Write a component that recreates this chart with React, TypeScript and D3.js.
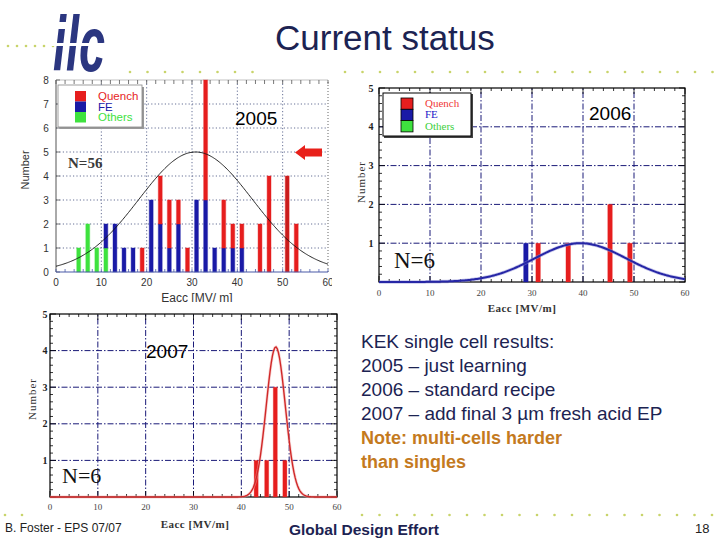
import React from 'react';
import * as d3 from 'd3';

// ---------- data ----------
const bins2005 = [5, 7, 9, 11, 13, 15, 17, 19, 21, 23, 25, 27, 29, 31, 33, 35, 37, 39, 41, 45, 47, 51, 53];
const others2005 = [1, 2, 1, 1, 0, 0, 0, 0, 0, 0, 0, 0, 0, 0, 0, 0, 0, 0, 0, 0, 0, 0, 0];
const fe2005 = [0, 0, 0, 1, 2, 1, 1, 0, 3, 2, 1, 2, 0, 3, 3, 1, 1, 1, 1, 0, 0, 0, 0];
const quench2005 = [0, 0, 0, 0, 0, 0, 0, 1, 0, 2, 2, 1, 1, 0, 5, 0, 2, 1, 1, 2, 4, 4, 2];
const fitMean2005 = 30.8;
const fitSigma2005 = 12.5;
const fitAmp2005 = 5.0;

const e2006 = [28.8, 31.2, 37.1, 45.3, 49.2];
const n2006 = [1, 1, 1, 2, 1];
const cause2006 = ['FE', 'Quench', 'Quench', 'Quench', 'Quench'];
const fitMean2006 = 39.5;
const fitSigma2006 = 9.0;
const fitAmp2006 = 1.0;

const e2007 = [43.1, 45.3, 47.1, 49.1];
const n2007 = [1, 1, 3, 1];
const fitMean2007 = 47.2;
const fitSigma2007 = 2.0;
const fitAmp2007 = 4.1;

const legendLabels = ['Quench', 'FE', 'Others'];
const xTicks = [0, 10, 20, 30, 40, 50, 60];
const yTicks2005 = [0, 1, 2, 3, 4, 5, 6, 7, 8];
const yTicks = [1, 2, 3, 4, 5];

const notes = [
  'KEK single cell results:',
  '2005 \u2013 just learning',
  '2006 \u2013 standard recipe',
  '2007 \u2013 add final 3 \u00b5m fresh acid EP',
];
const noteBold = ['Note: multi-cells harder', 'than singles'];

// ---------- styles ----------
const RED = '#e61e1e';
const BLUE = '#1a1aa6';
const GREEN = '#3ee23e';
const NAVY = '#1c2352';
const SANS = 'Liberation Sans, Arial, sans-serif';
const SERIF = 'Liberation Serif, Times New Roman, serif';
const causeColor: Record<string, string> = { Quench: RED, FE: BLUE, Others: GREEN };

function gauss(amp: number, mean: number, sigma: number) {
  return d3.range(0, 60.001, 0.25).map((v) => [v, amp * Math.exp(-((v - mean) ** 2) / (2 * sigma * sigma))] as [number, number]);
}

function Panel2005() {
  const x = d3.scaleLinear().domain([0, 60]).range([56, 328]);
  const y = d3.scaleLinear().domain([0, 8]).range([272, 80]);
  const bw = x(0.85) - x(0);
  const rows = bins2005.map((b, i) => ({ bin: b, others: others2005[i], fe: fe2005[i], quench: quench2005[i] }));
  const series = d3.stack<any>().keys(['others', 'fe', 'quench'])(rows);
  const colors = [GREEN, BLUE, RED];
  const line = d3.line<[number, number]>().x((d) => x(d[0])).y((d) => y(d[1]));
  const minorX = d3.range(0, 61, 2);
  return (
    <g clipPath="url(#clip2005)">
      <rect x={15} y={74} width={320} height={230} fill="#fff" />
      {[10, 20, 30, 40, 50].map((t) => (
        <line key={'gx' + t} x1={x(t)} x2={x(t)} y1={y(0)} y2={y(8)} stroke="#55608a" strokeDasharray="1.2,2.2" strokeWidth={0.9} />
      ))}
      {[1, 2, 3, 4, 5, 6, 7].map((t) => (
        <line key={'gy' + t} x1={x(0)} x2={x(60)} y1={y(t)} y2={y(t)} stroke="#55608a" strokeDasharray="1.2,2.2" strokeWidth={0.9} />
      ))}
      <line x1={x(0)} x2={x(0)} y1={y(0)} y2={y(8)} stroke="#555" strokeWidth={1} />
      <line x1={x(60)} x2={x(60)} y1={y(0)} y2={y(8)} stroke="#666" strokeDasharray="1,2" strokeWidth={1} />
      <line x1={x(0)} x2={x(60)} y1={y(8)} y2={y(8)} stroke="#999" strokeWidth={0.6} />
      {minorX.map((t) => (
        <line key={'tt' + t} x1={x(t)} x2={x(t)} y1={y(8)} y2={y(8) + 4} stroke="#555" strokeWidth={0.8} />
      ))}
      {yTicks2005.map((t) => (
        <line key={'ly' + t} x1={x(0)} x2={x(0) + 4} y1={y(t)} y2={y(t)} stroke="#555" strokeWidth={0.8} />
      ))}
      {series.map((s, si) =>
        s.map((d, i) =>
          d[1] - d[0] > 0 ? (
            <rect
              key={si + '-' + i}
              x={x(rows[i].bin) - bw / 2}
              y={y(d[1])}
              width={bw}
              height={y(d[0]) - y(d[1])}
              fill={rows[i].bin === 51 && si === 2 ? '#c81c1c' : colors[si]}
              stroke={colors[si]}
              strokeOpacity={0.35}
              strokeWidth={1.2}
            />
          ) : null
        )
      )}
      <line x1={x(0)} x2={x(60)} y1={y(0)} y2={y(0)} stroke="#4a5aa8" strokeWidth={1.2} />
      {minorX.map((t) => (
        <line key={'bt' + t} x1={x(t)} x2={x(t)} y1={y(0)} y2={y(0) - 3} stroke="#4a5aa8" strokeWidth={0.8} />
      ))}
      <path d={line(gauss(fitAmp2005, fitMean2005, fitSigma2005)) || ''} fill="none" stroke="#111" strokeWidth={0.9} />
      {yTicks2005.map((t) => (
        <text key={'yl' + t} x={46} y={y(t) + 3.5} fontFamily={SANS} fontSize={10} fill="#333" textAnchor="middle">{t}</text>
      ))}
      {xTicks.map((t) => (
        <text key={'xl' + t} x={x(t)} y={286} fontFamily={SANS} fontSize={10} fill="#333" textAnchor="middle">{t}</text>
      ))}
      <text x={197} y={302} fontFamily={SANS} fontSize={12} fill="#333" textAnchor="middle">Eacc [MV/ m]</text>
      <text transform="translate(29,170) rotate(-90)" fontFamily={SANS} fontSize={11} fill="#333" textAnchor="middle">Number</text>
      <rect x={60} y={87} width={84} height={42} fill="#999" />
      <rect x={58} y={85} width={84} height={42} fill="#fff" stroke="#888" strokeWidth={0.8} />
      {legendLabels.map((l, i) => (
        <g key={'lg' + l}>
          <rect x={75} y={91 + i * 10.5} width={11} height={10.5} fill={causeColor[l]} />
          <text x={98} y={100 + i * 10.5} fontFamily={SANS} fontSize={11.5} fill={causeColor[l]}>{l}</text>
        </g>
      ))}
      <text x={68} y={168} fontFamily={SERIF} fontWeight="bold" fontSize={15} fill="#3a3a3a">N=56</text>
      <text x={235} y={125} fontFamily={SANS} fontSize={19} fill="#000">2005</text>
      <path d="M295,152.5 L305,145 L305,148.5 L322,148.5 L322,156.5 L305,156.5 L305,160 Z" fill="#e8201a" />
    </g>
  );
}

function FramedPanel(props: {
  x0: number; x1: number; y0: number; y1: number;
  bars: { e: number; n: number; c: string }[];
  fit: [number, number][];
  fitColor: string; glow: string; fitW: number;
  nLabel: { x: number; y: number; size: number };
  year: { x: number; y: number; text: string };
  yTitle: { x: number; y: number };
  xTitle: { x: number; y: number };
  xLabelY: number; yLabelX: number;
  legend?: boolean; barW: number;
}) {
  const p = props;
  const x = d3.scaleLinear().domain([0, 60]).range([p.x0, p.x1]);
  const y = d3.scaleLinear().domain([0, 5]).range([p.y0, p.y1]);
  const line = d3.line<[number, number]>().x((d) => x(d[0])).y((d) => y(d[1]));
  const bw = x(p.barW) - x(0);
  const minorX = d3.range(0, 61, 2);
  const minorY = d3.range(0, 5.01, 0.2);
  return (
    <g>
      {[10, 20, 30, 40, 50].map((t) => (
        <line key={'gx' + t} x1={x(t)} x2={x(t)} y1={y(0)} y2={y(5)} stroke="#1a1a78" strokeDasharray="6,2,1.5,2" strokeWidth={1} />
      ))}
      {[1, 2, 3, 4].map((t) => (
        <line key={'gy' + t} x1={x(0)} x2={x(60)} y1={y(t)} y2={y(t)} stroke="#1a1a78" strokeDasharray="6,2,1.5,2" strokeWidth={1} />
      ))}
      <rect x={p.x0} y={p.y1} width={p.x1 - p.x0} height={p.y0 - p.y1} fill="none" stroke="#000" strokeWidth={1.2} />
      {minorX.map((t) => (
        <g key={'mx' + t}>
          <line x1={x(t)} x2={x(t)} y1={y(0)} y2={y(0) - (t % 10 === 0 ? 6 : 3)} stroke="#000" strokeWidth={0.8} />
          <line x1={x(t)} x2={x(t)} y1={y(5)} y2={y(5) + (t % 10 === 0 ? 6 : 3)} stroke="#000" strokeWidth={0.8} />
        </g>
      ))}
      {minorY.map((t, i) => (
        <g key={'my' + i}>
          <line x1={x(0)} x2={x(0) + (i % 5 === 0 ? 6 : 3)} y1={y(t)} y2={y(t)} stroke="#000" strokeWidth={0.8} />
          <line x1={x(60)} x2={x(60) - (i % 5 === 0 ? 6 : 3)} y1={y(t)} y2={y(t)} stroke="#000" strokeWidth={0.8} />
        </g>
      ))}
      {p.bars.map((b, i) => (
        <rect key={'b' + i} x={x(b.e) - bw / 2} y={y(b.n)} width={bw} height={y(0) - y(b.n)} fill={causeColor[b.c]} stroke={causeColor[b.c]} strokeOpacity={0.25} strokeWidth={1} />
      ))}
      <path d={line(p.fit) || ''} fill="none" stroke={p.glow} strokeWidth={p.fitW + 1.5} strokeOpacity={0.5} />
      <path d={line(p.fit) || ''} fill="none" stroke={p.fitColor} strokeWidth={p.fitW} />
      {yTicks.map((t) => (
        <text key={'yl' + t} x={p.yLabelX} y={y(t) + 3.5} fontFamily={SERIF} fontWeight="bold" fontSize={10} fill="#222" textAnchor="middle">{t}</text>
      ))}
      {xTicks.map((t) => (
        <text key={'xl' + t} x={x(t)} y={p.xLabelY} fontFamily={SERIF} fontSize={9} fill="#444" textAnchor="middle">{t}</text>
      ))}
      <text x={p.xTitle.x} y={p.xTitle.y} fontFamily={SERIF} fontWeight="bold" fontSize={11} fill="#333" textAnchor="middle" letterSpacing={0.5}>Eacc [MV/m]</text>
      <text transform={`translate(${p.yTitle.x},${p.yTitle.y}) rotate(-90)`} fontFamily={SERIF} fontSize={11} fill="#333" textAnchor="middle" letterSpacing={1}>Number</text>
      <text x={p.nLabel.x} y={p.nLabel.y} fontFamily={SERIF} fontSize={p.nLabel.size} fill="#111">N=6</text>
      <text x={p.year.x} y={p.year.y} fontFamily={SANS} fontSize={19} fill="#000">{p.year.text}</text>
      {p.legend ? (
        <g>
          <rect x={384} y={94} width={89} height={44} fill="#444" />
          <rect x={383} y={93} width={88} height={43} fill="#fff" stroke="#000" strokeWidth={1} />
          {legendLabels.map((l, i) => (
            <g key={'lg' + l}>
              <rect x={401} y={98 + i * 11.3} width={12} height={11.3} fill={causeColor[l]} stroke="#000" strokeWidth={0.8} />
              <text x={425} y={107 + i * 11.3} fontFamily={SERIF} fontSize={11} fill={l === 'Quench' ? '#f03838' : l === 'FE' ? '#2020c8' : '#40d040'}>{l}</text>
            </g>
          ))}
        </g>
      ) : null}
    </g>
  );
}

function Logo() {
  return (
    <g>
      <text x={0} y={0} transform="translate(53,71) scale(0.78,1.3)" fontFamily={SANS} fontStyle="italic" fontWeight="bold" fontSize={60} fill="#2b3680">ilc</text>
      <rect x={50} y={43} width={60} height={3} fill="#fff" />
    </g>
  );
}

function Dots(props: { x0: number; x1: number; y: number; step: number }) {
  const xs = d3.range(props.x0, props.x1, props.step);
  return (
    <g>
      {xs.map((v) => (
        <circle key={v} cx={v} cy={props.y} r={1.3} fill="#c8d46a" />
      ))}
    </g>
  );
}

export default function App() {
  const bars2006 = e2006.map((e, i) => ({ e, n: n2006[i], c: cause2006[i] }));
  const bars2007 = e2007.map((e, i) => ({ e, n: n2007[i], c: 'Quench' }));
  return (
    <svg width={720} height={540} style={{ position: 'absolute', left: 0, top: 0, background: '#fff' }}>
      <defs>
        <clipPath id="clip2005">
          <rect x={15} y={76} width={317} height={226} />
        </clipPath>
      </defs>
      <rect width={720} height={540} fill="#fff" />
      <Dots x0={8} x1={55} y={46} step={9} />
      <Dots x0={130} x1={255} y={72} step={17.5} />
      <Dots x0={345} x1={720} y={72} step={17.5} />
      <Dots x0={5} x1={30} y={515} step={17} />
      <Dots x0={362} x1={720} y={515} step={17.5} />
      <Logo />
      <text x={275} y={50} fontFamily={SANS} fontSize={35} fill={NAVY}>Current status</text>
      <Panel2005 />
      <FramedPanel
        x0={379} x1={685} y0={282} y1={88}
        bars={bars2006}
        fit={gauss(fitAmp2006, fitMean2006, fitSigma2006)}
        fitColor="#2626a6" glow="#9090d8" fitW={2}
        nLabel={{ x: 394, y: 268, size: 23 }}
        year={{ x: 589, y: 120, text: '2006' }}
        yTitle={{ x: 365, y: 182 }}
        xTitle={{ x: 522, y: 312 }}
        xLabelY={296} yLabelX={371}
        legend barW={0.9}
      />
      <FramedPanel
        x0={50} x1={337} y0={497} y1={314}
        bars={bars2007}
        fit={gauss(fitAmp2007, fitMean2007, fitSigma2007)}
        fitColor="#d02828" glow="#f2a8a8" fitW={1.4}
        nLabel={{ x: 62, y: 483, size: 22 }}
        year={{ x: 146, y: 358, text: '2007' }}
        yTitle={{ x: 36, y: 399 }}
        xTitle={{ x: 195, y: 528 }}
        xLabelY={510} yLabelX={45}
        barW={0.85}
      />
      {notes.map((t, i) => (
        <text key={'n' + i} x={361} y={348 + i * 24} fontFamily={SANS} fontSize={19} fill={NAVY}>{t}</text>
      ))}
      {noteBold.map((t, i) => (
        <text key={'nb' + i} x={361} y={444 + i * 24} fontFamily={SANS} fontWeight="bold" fontSize={18} fill="#c47a1e">{t}</text>
      ))}
      <text x={5} y={532} fontFamily={SANS} fontSize={12} fill="#222">B. Foster - EPS 07/07</text>
      <text x={289} y={535} fontFamily={SANS} fontWeight="bold" fontSize={15.5} fill={NAVY}>Global Design Effort</text>
      <text x={695} y={533} fontFamily={SANS} fontSize={13} fill="#222">18</text>
    </svg>
  );
}
